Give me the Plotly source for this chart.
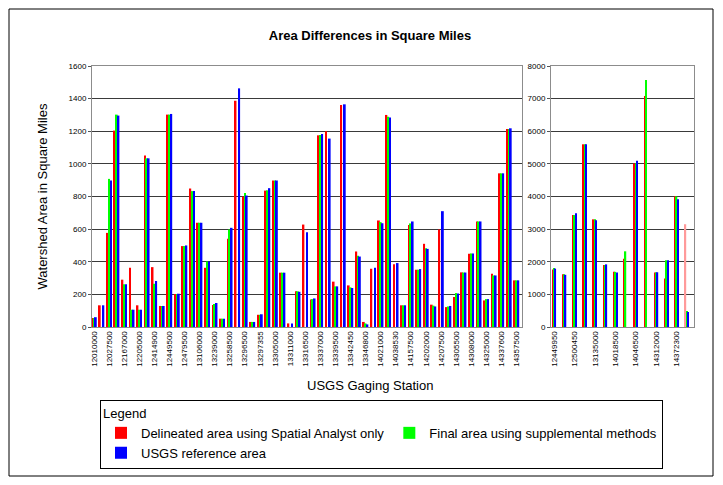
import plotly.graph_objects as go

# ---------------- data ----------------
left_labels = ["12010000", "12027500", "12167000", "12205000", "12414900", "12449500",
               "12479500", "13106000", "13239000", "13258500", "13296500", "13297355",
               "13305000", "13311000", "13316500", "13337000", "13339500", "13342450",
               "13346800", "14021000", "14038530", "14157500", "14202000", "14207500",
               "14305500", "14308000", "14325000", "14337600", "14357500"]

left_delineated = [55, 133, 577, 1204, 290, 363, 133, 1051, 367, 129,
                   1302, 202, 496, 849, 639, 363, 135, 51, 541, 1387,
                   800, 31, 75, 836, 898, 333, 22, 219, 628, 169,
                   1175, 1200, 278, 1361, 255, 463, 31, 357, 653, 1300,
                   384, 133, 626, 351, 510, 137, 598, 122, 184, 335,
                   449, 647, 163, 326, 942, 1214, 286]
left_final = [55, None, 908, 1302, 262, 106, 106, 1034, 265, 129,
              1302, 202, 496, 833, 639, 402, 141, 51, 598, None,
              822, 31, 75, 838, 898, 333, None, 219, None, 171,
              1177, None, 249, None, 243, 437, 22, None, 643, 1289,
              None, 133, 635, 351, 483, 131, None, 126, 208, 334,
              451, 647, 171, 316, 942, 1214, 286]
left_usgs = [60, 133, 898, 1296, 262, 106, 106, 1034, 282, 129,
             1306, 204, 500, 833, 639, 402, 147, 51, 608, 1463,
             806, 31, 78, 851, 898, 333, 22, 216, 581, 175,
             1183, 1155, 249, 1365, 239, 432, 16, 363, 636, 1285,
             392, 133, 647, 355, 479, 126, 710, 129, 205, 334,
             451, 647, 171, 316, 942, 1218, 286]

right_labels = ["12449950", "12500450", "13135000", "14018500", "14046500", "14312000", "14372300"]

right_delineated = [1760, 1620, 3430, 5600, 3300, 1900, 1690, 2090, 5015, 7080, 1668, 1483, 4010, 3150]
right_final = [1810, 1620, 3430, 5600, 3300, 1900, 1690, 2320, 5020, 7570, 1668, 2046, 4000, 490]
right_usgs = [1790, 1600, 3490, 5600, 3275, 1920, 1668, None, 5095, None, 1678, 2046, 3918, 460]

series_names = ["Delineated area using Spatial Analyst only",
                "Final area using supplemental methods",
                "USGS reference area"]
series_colors = ["#ff0000", "#00ff00", "#0000ff"]

# ---------------- figure ----------------
fig = go.Figure()

left_x = list(range(len(left_delineated)))
right_x = list(range(len(right_delineated)))

left_w = 0.24
for i, (vals, name, col) in enumerate(zip([left_delineated, left_final, left_usgs],
                                           series_names, series_colors)):
    fig.add_trace(go.Bar(x=left_x, y=vals, name=name, marker_color=col,
                         marker_line_width=0, width=left_w, offset=-1.5 * left_w + i * left_w,
                         xaxis="x", yaxis="y", showlegend=True))

right_w = 0.13
right_red_colors = [series_colors[0]] * (len(right_delineated) - 1) + ["#ff9a9a"]
for i, (vals, name, col) in enumerate(zip([right_delineated, right_final, right_usgs],
                                           series_names, series_colors)):
    c = right_red_colors if i == 0 else col
    fig.add_trace(go.Bar(x=right_x, y=vals, name=name, marker_color=c,
                         marker_line_width=0, width=right_w, offset=-1.5 * right_w + i * right_w,
                         xaxis="x2", yaxis="y2", showlegend=False))

# page body has an 8px margin: shift the figure so it lands on the reference pixels
OFF = 8
W, H = 723 - OFF, 485 - OFF
ml, mt = 92 - OFF, 66 - OFF
mb = H - (327 - OFF)
mr = W - (694 - OFF)
pw = W - ml - mr
ph = H - mt - mb

def px_x(x):
    return (x - OFF - ml) / pw

def px_y(y):
    return (H - mb - (y - OFF)) / ph

font_family = "Liberation Sans, Arial, sans-serif"
grid_col = "#3a3a3a"
frame_col = "#8c8c8c"

common_x = dict(showgrid=False, showline=True, linecolor=frame_col, mirror=True,
                tickangle=-90, tickfont=dict(size=8, color="#000"), ticks="",
                zeroline=False, tickmode="array")
common_y = dict(showgrid=True, gridcolor=grid_col, gridwidth=1, showline=True,
                linecolor=frame_col, mirror=True, ticks="outside", ticklen=3,
                tickcolor="#555", tickfont=dict(size=8, color="#000"), zeroline=False)

fig.update_layout(
    width=W, height=H,
    margin=dict(l=ml, r=mr, t=mt, b=mb),
    paper_bgcolor="white", plot_bgcolor="white",
    font=dict(family=font_family, color="#000"),
    barmode="overlay",
    title=dict(text="<b>Area Differences in Square Miles</b>", x=(370 - OFF) / W, xref="container",
               xanchor="center", y=1 - (35 - OFF) / H, yanchor="middle", font=dict(size=13)),
    xaxis=dict(domain=[0, px_x(522)], range=[-0.27, len(left_x) - 0.27],
               tickvals=left_x[::2], ticktext=left_labels, anchor="y", **common_x),
    yaxis=dict(range=[0, 1600], dtick=200, anchor="x", **common_y),
    xaxis2=dict(domain=[px_x(551), 1], range=[-0.3, len(right_x) - 0.3],
                tickvals=right_x[::2], ticktext=right_labels, anchor="y2", **common_x),
    yaxis2=dict(range=[0, 8000], dtick=1000, anchor="x2", **common_y),
    showlegend=True,
    legend=dict(orientation="h", x=px_x(100), xanchor="left", y=px_y(400), yanchor="top",
                bordercolor="#000", borderwidth=1, bgcolor="white",
                font=dict(size=13), title=dict(text="Legend", side="top", font=dict(size=13)),
                traceorder="normal", tracegroupgap=0),
    annotations=[
        dict(text="Watershed Area in Square Miles", xref="paper", yref="paper",
             x=px_x(42), y=0.5, textangle=-90, showarrow=False, font=dict(size=13),
             xanchor="center", yanchor="middle"),
        dict(text="USGS Gaging Station", xref="paper", yref="paper",
             x=px_x(370), y=px_y(385), showarrow=False, font=dict(size=13),
             xanchor="center", yanchor="middle"),
    ],
    shapes=[
        dict(type="rect", xref="paper", yref="paper", x0=px_x(9), x1=px_x(713),
             y0=px_y(476), y1=px_y(9), line=dict(color="#000", width=1), fillcolor="rgba(0,0,0,0)",
             layer="below"),
    ],
)

fig.write_html("out.html")
